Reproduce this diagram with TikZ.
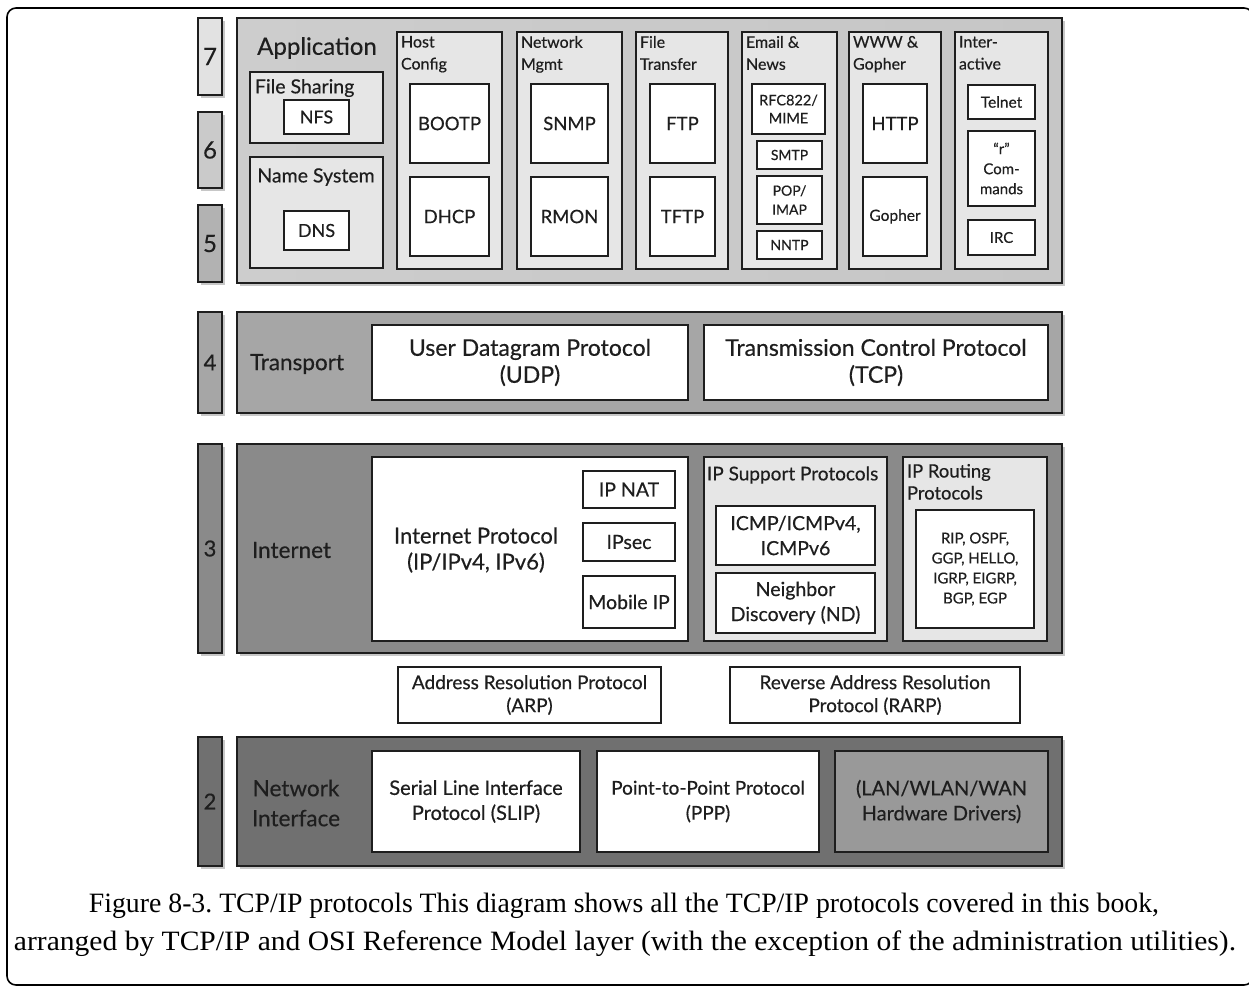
\documentclass[tikz,border=0pt]{standalone}
\usepackage{graphicx}
\usepackage{fontspec}
\setmainfont{Lato}[FakeBold=0.4]
\newfontfamily\capfont{Liberation Serif}
\usetikzlibrary{shadows}
\definecolor{appL}{HTML}{CDCDCD}
\definecolor{appM}{HTML}{E0E0E0}
\definecolor{appR}{HTML}{C6C6C6}
\definecolor{grpgray}{HTML}{E6E6E6}
\definecolor{nsev}{HTML}{E2E2E2}
\definecolor{nsix}{HTML}{CACACA}
\definecolor{nfive}{HTML}{B2B2B2}
\definecolor{trgray}{HTML}{A6A6A6}
\definecolor{ingray}{HTML}{8A8A8A}
\definecolor{nigray}{HTML}{707070}
\definecolor{langray}{HTML}{999999}
\definecolor{ink}{HTML}{1E1E1E}
\frenchspacing
\newcommand\bx[7]{\node[#1, minimum width={#5-#3}, minimum height={#6-#4}] (#2) at ({(#3+#5)/2},{(#4+#6)/2}) {#7};}
\newcommand\fs[2]{\fontsize{#1}{#2}\selectfont}
\begin{document}
\begin{tikzpicture}[x=1pt,y=-1pt,
  box/.style={draw=ink, line width=2pt, inner sep=0pt, outer sep=0pt, align=center, text=ink},
  wbox/.style={box, fill=white},
  grp/.style={box, fill=grpgray},
  shd/.style={drop shadow={shadow xshift=3pt, shadow yshift=-3pt, opacity=0.22, fill=black}},
  layer/.style={box, line width=2.5pt, shd},
  num/.style={box, line width=2pt, shd},
  lbl/.style={inner sep=0pt, outer sep=0pt, align=center, text=ink},
  gl/.style={lbl, align=left, anchor=north west, font=\fs{16}{22}}
]
\useasboundingbox (0,0) rectangle (1249,989);
\fill[white] (0,0) rectangle (1249,989);
\draw[line width=1.6pt, rounded corners=9pt] (7,985) rectangle (1253,8);

% layer numbers
\bx{num, fill=nsev, font=\fs{24}{28}}{n7}{198}{18}{222}{95}{7}
\bx{num, fill=nsix, font=\fs{24}{28}}{n6}{198}{112}{222}{188}{6}
\bx{num, fill=nfive, font=\fs{24}{28}}{n5}{198}{205}{222}{282}{5}
\bx{num, fill=trgray, font=\fs{22}{26}}{n4}{198}{312}{222}{413}{4}
\bx{num, fill=ingray, font=\fs{22}{26}}{n3}{198}{444}{222}{653}{3}
\bx{num, fill=nigray, font=\fs{22}{26}}{n2}{198}{737}{222}{866}{2}

% layers
\bx{layer, left color=appL, middle color=appM, right color=appR}{app}{237}{18}{1062}{283}{}
\bx{layer, fill=trgray}{trans}{237}{312}{1062}{413}{}
\bx{layer, fill=ingray}{inet}{237}{444}{1062}{653}{}
\bx{layer, fill=nigray}{ni}{237}{737}{1062}{866}{}

% application layer
\node[lbl, font=\fs{24}{28}] (applbl) at (317,48) {Application};
\bx{grp}{fsg}{250}{72}{383}{143}{}
\node[lbl, font=\fs{19.5}{24}, anchor=west] (fslbl) at (255,88) {File Sharing};
\bx{wbox, font=\fs{18}{22}}{nfs}{284}{100}{349}{134}{NFS}
\bx{grp}{nsg}{250}{157}{383}{268}{}
\node[lbl, font=\fs{19.5}{24}] (nslbl) at (316,177) {Name System};
\bx{wbox, font=\fs{18}{22}}{dns}{284}{211}{349}{250}{DNS}

\bx{grp}{hc}{397}{32}{502}{269}{}
\node[gl] (hclbl) at (401,36) {Host\\Config};
\bx{wbox, font=\fs{18.5}{22}}{bootp}{410}{84}{489}{163}{BOOTP}
\bx{wbox, font=\fs{18.5}{22}}{dhcp}{410}{177}{489}{256}{DHCP}

\bx{grp}{nm}{517}{32}{622}{269}{}
\node[gl] (nmlbl) at (521,36) {Network\\Mgmt};
\bx{wbox, font=\fs{18.5}{22}}{snmp}{531}{84}{608}{163}{SNMP}
\bx{wbox, font=\fs{18.5}{22}}{rmon}{531}{177}{608}{256}{RMON}

\bx{grp}{ft}{636}{32}{728}{269}{}
\node[gl] (ftlbl) at (640,36) {File\\Transfer};
\bx{wbox, font=\fs{18.5}{22}}{ftp}{650}{84}{715}{163}{FTP}
\bx{wbox, font=\fs{18.5}{22}}{tftp}{650}{177}{715}{256}{TFTP}

\bx{grp}{en}{742}{32}{837}{269}{}
\node[gl] (enlbl) at (746,36) {Email \&\\News};
\bx{wbox, font=\fs{14.5}{18}}{rfc}{752}{84}{825}{134}{RFC822/\\MIME}
\bx{wbox, font=\fs{14}{18}}{smtp}{757}{141}{822}{169}{SMTP}
\bx{wbox, font=\fs{14}{19}}{pop}{757}{176}{822}{224}{POP/\\IMAP}
\bx{wbox, font=\fs{14}{18}}{nntp}{757}{231}{822}{259}{NNTP}

\bx{grp}{ww}{849}{32}{941}{269}{}
\node[gl] (wwlbl) at (853,36) {WWW \&\\Gopher};
\bx{wbox, font=\fs{18.5}{22}}{http}{863}{84}{927}{163}{HTTP}
\bx{wbox, font=\fs{15.5}{20}}{gopher}{863}{177}{927}{256}{Gopher}

\bx{grp}{ia}{955}{32}{1048}{269}{}
\node[gl] (ialbl) at (959,36) {Inter-\\active};
\bx{wbox, font=\fs{15.5}{20}}{telnet}{968}{85}{1035}{119}{Telnet}
\bx{wbox, font=\fs{15}{20}}{rcmd}{968}{131}{1035}{206}{“r”\\Com-\\mands}
\bx{wbox, font=\fs{15}{20}}{irc}{968}{220}{1035}{255}{IRC}

% transport layer
\node[lbl, font=\fs{22.5}{27}] (trlbl) at (297,364) {Transport};
\bx{wbox, font=\fs{23}{27}}{udp}{372}{325}{688}{400}{User Datagram Protocol\\(UDP)}
\bx{wbox, font=\fs{23}{27}}{tcp}{704}{325}{1048}{400}{Transmission Control Protocol\\(TCP)}

% internet layer
\node[lbl, font=\fs{22.5}{27}, anchor=west] (inlbl) at (252,550) {Internet};
\bx{wbox}{ip}{372}{457}{688}{641}{}
\node[lbl, font=\fs{22}{26}] (iplbl) at (476,550) {Internet Protocol\\(IP/IPv4, IPv6)};
\bx{wbox, font=\fs{19.5}{24}}{ipnat}{583}{471}{675}{508}{IP NAT}
\bx{wbox, font=\fs{19.5}{24}}{ipsec}{583}{523}{675}{561}{IPsec}
\bx{wbox, font=\fs{19.5}{24}}{mip}{583}{576}{675}{628}{Mobile IP}
\bx{grp}{sup}{704}{457}{887}{641}{}
\node[lbl, font=\fs{19}{24}, anchor=west] (suplbl) at (707,475) {IP Support Protocols};
\bx{wbox, font=\fs{19.5}{25}}{icmp}{716}{506}{875}{565}{ICMP/ICMPv4,\\ICMPv6}
\bx{wbox, font=\fs{19.5}{25}}{nd}{716}{573}{875}{633}{Neighbor\\Discovery (ND)}
\bx{grp}{rout}{903}{457}{1047}{641}{}
\node[lbl, anchor=north west, align=left, font=\fs{18.4}{22}] (routlbl) at (907,464) {IP Routing\\Protocols};
\bx{wbox, font=\fs{15}{20}}{rlist}{916}{510}{1034}{628}{RIP, OSPF,\\GGP, HELLO,\\IGRP, EIGRP,\\BGP, EGP}

% ARP / RARP
\bx{wbox, font=\fs{19}{23}}{arp}{398}{667}{661}{723}{Address Resolution Protocol\\(ARP)}
\bx{wbox, font=\fs{19}{23}}{rarp}{730}{667}{1020}{723}{Reverse Address Resolution\\Protocol (RARP)}

% network interface layer
\node[lbl, font=\fs{22.5}{30}] (nilbl) at (296,803) {Network\\Interface};
\bx{wbox, font=\fs{20}{25}}{slip}{372}{751}{580}{852}{Serial Line Interface\\Protocol (SLIP)}
\bx{wbox, font=\fs{19}{25}}{ppp}{597}{751}{819}{852}{Point-to-Point Protocol\\(PPP)}
\bx{box, fill=langray, font=\fs{20}{25}}{lan}{835}{751}{1048}{852}{(LAN/WLAN/WAN\\Hardware Drivers)}

% caption
\node[inner sep=0pt, anchor=base, font=\capfont\fs{28}{34}] (cap1) at (624,912)
  {\resizebox{1070pt}{\height}{Figure 8-3. TCP/IP protocols This diagram shows all the TCP/IP protocols covered in this book,}};
\node[inner sep=0pt, anchor=base, font=\capfont\fs{28}{34}] (cap2) at (625,950)
  {\resizebox{1222pt}{\height}{arranged by TCP/IP and OSI Reference Model layer (with the exception of the administration utilities).}};
\end{tikzpicture}
\end{document}
